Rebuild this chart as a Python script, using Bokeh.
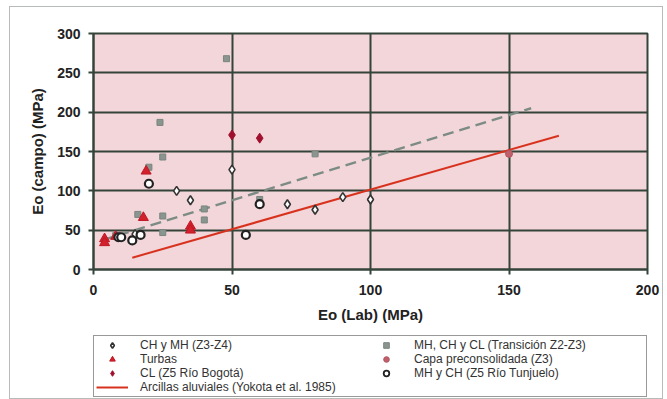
from bokeh.plotting import figure
from bokeh.models import Legend, LegendItem, FixedTicker
from bokeh.layouts import column
from bokeh.embed import file_html
from bokeh.resources import INLINE

# ---- data ----
chmh_x = [15, 30, 35, 50, 70, 80, 90, 100]
chmh_y = [45, 100, 88, 127, 83, 76, 92, 89]

turbas_x = [4, 4, 8, 18, 19, 35, 35]
turbas_y = [39, 34, 42, 66, 125, 55, 50]

bogota_x = [50, 60]
bogota_y = [171, 167]

trans_x = [8, 16, 20, 24, 25, 25, 25, 40, 40, 48, 60, 80]
trans_y = [43, 70, 130, 187, 143, 68, 47, 63, 77, 268, 89, 147]

capa_x = [150]
capa_y = [147]

tunj_x = [9, 10, 14, 17, 20, 55, 60]
tunj_y = [41, 41, 37, 44, 109, 44, 83]

yokota_x = [14, 168]
yokota_y = [15, 170]

trend_x = [3, 158]
trend_y = [37, 205]

x_ticks = [0, 50, 100, 150, 200]
y_ticks = [0, 50, 100, 150, 200, 250, 300]

FONT = "Liberation Sans"
GRID = "#34443a"

# series styles
S_CHMH = dict(marker="diamond", fill_color="white", line_color="#333333", line_width=1.6)
S_TURB = dict(marker="triangle", fill_color="#d2202c", line_color="#c01824")
S_BOG = dict(marker="diamond", fill_color="#a0102e", line_color="#a0102e")
S_TRANS = dict(marker="square", fill_color="#8a958f", line_color="#7a857f", line_width=1)
S_CAPA = dict(marker="circle", fill_color="#c0606a", line_color="#b05560")
S_TUNJ = dict(marker="circle", fill_color="white", line_color="#222222", line_width=2.2)
S_YOK = dict(line_color="#d8321e", line_width=2)

p = figure(width=652, height=324, output_backend="svg", toolbar_location=None,
           x_range=(0, 200), y_range=(0, 300),
           min_border_left=83, min_border_right=15, min_border_top=26, min_border_bottom=62)

p.background_fill_color = "#f2d6da"
p.border_fill_color = "white"
p.outline_line_color = GRID
p.outline_line_width = 2

p.xgrid.grid_line_color = GRID
p.ygrid.grid_line_color = GRID
p.xgrid.grid_line_width = 2
p.ygrid.grid_line_width = 2
p.xaxis.ticker = FixedTicker(ticks=x_ticks)
p.yaxis.ticker = FixedTicker(ticks=y_ticks)

for ax in (p.xaxis[0], p.yaxis[0]):
    ax.axis_line_color = GRID
    ax.axis_line_width = 2
    ax.major_tick_line_color = GRID
    ax.major_tick_line_width = 2
    ax.major_tick_out = 5
    ax.major_tick_in = 0
    ax.minor_tick_line_color = None
    ax.major_label_text_font = FONT
    ax.major_label_text_font_style = "bold"
    ax.major_label_text_font_size = "14px"
    ax.major_label_text_color = "#222222"
    ax.axis_label_text_font = FONT
    ax.axis_label_text_font_style = "bold"
    ax.axis_label_text_font_size = "15px"
    ax.axis_label_text_color = "#222222"

p.xaxis.axis_label = "Eo (Lab) (MPa)"
p.yaxis.axis_label = "Eo (campo) (MPa)"
p.xaxis.major_label_standoff = 10
p.yaxis.major_label_standoff = 8
p.xaxis.axis_label_standoff = 8
p.yaxis.axis_label_standoff = 8

# lines
p.line(trend_x, trend_y, line_color="#7c8c84", line_width=2.5, line_dash="11 6")
p.line(yokota_x, yokota_y, **S_YOK)

# markers
p.scatter(trans_x, trans_y, size=6, **S_TRANS)
p.scatter(capa_x, capa_y, size=7, **S_CAPA)
p.scatter(turbas_x, turbas_y, size=10, **S_TURB)
p.scatter(bogota_x, bogota_y, size=10, **S_BOG)
p.scatter(chmh_x, chmh_y, size=9, **S_CHMH)
p.scatter(tunj_x, tunj_y, size=8, **S_TUNJ)

# ---- legend panel (separate figure below the chart; its frame is aligned with the chart's) ----
q = figure(width=652, height=67, output_backend="svg", toolbar_location=None,
           x_range=(-2, -1), y_range=(-2, -1), min_border=0,
           x_axis_location=None, y_axis_location=None)
q.grid.visible = False
q.outline_line_color = None
q.background_fill_color = "white"
q.border_fill_color = "white"

# same series, outside this panel's ranges: only their (smaller) legend glyphs show
l_chmh = q.scatter(chmh_x, chmh_y, size=7, **S_CHMH)
l_turb = q.scatter(turbas_x, turbas_y, size=8, **S_TURB)
l_bog = q.scatter(bogota_x, bogota_y, size=7, **S_BOG)
l_yok = q.line(yokota_x, yokota_y, **S_YOK)
l_trans = q.scatter(trans_x, trans_y, size=5, **S_TRANS)
l_capa = q.scatter(capa_x, capa_y, size=6, **S_CAPA)
l_tunj = q.scatter(tunj_x, tunj_y, size=7, fill_color_alpha=1, **{k: v for k, v in S_TUNJ.items() if k != "line_width"}, line_width=1.8) if False else q.scatter(tunj_x, tunj_y, size=7, marker="circle", fill_color="white", line_color="#222222", line_width=1.8)

legend = Legend(items=[
    LegendItem(label="CH y MH (Z3-Z4)", renderers=[l_chmh]),
    LegendItem(label="Turbas", renderers=[l_turb]),
    LegendItem(label="CL (Z5 Río Bogotá)", renderers=[l_bog]),
    LegendItem(label="Arcillas aluviales (Yokota et al. 1985)", renderers=[l_yok]),
    LegendItem(label="MH, CH y CL (Transición Z2-Z3)", renderers=[l_trans]),
    LegendItem(label="Capa preconsolidada (Z3)", renderers=[l_capa]),
    LegendItem(label="MH y CH (Z5 Río Tunjuelo)", renderers=[l_tunj]),
], location=(0, 1), nrows=4)
legend.label_text_font = FONT
legend.label_text_font_size = "12px"
legend.label_text_color = "#333333"
legend.glyph_height = 14
legend.label_height = 14
legend.glyph_width = 32
legend.label_standoff = 12
legend.label_width = 230
legend.spacing = 0
legend.margin = 0
legend.padding = 2
legend.border_line_color = "#333333"
legend.border_line_width = 1.5
legend.background_fill_color = "white"
legend.background_fill_alpha = 1
q.add_layout(legend)

layout = column(p, q, spacing=0)
layout.margin = (6, 0, 0, 9)
layout.styles = {"border": "1px solid #b8bcb8"}

open("out.html", "w").write(file_html(layout, INLINE))
